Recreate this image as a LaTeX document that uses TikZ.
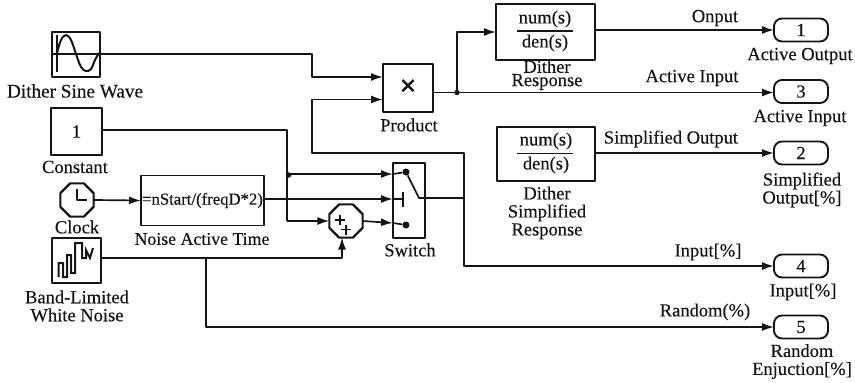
\documentclass[tikz,border=0pt]{standalone}
\usepackage{fontspec}
\setmainfont{Liberation Serif}[RawFeature={embolden=0.35}]
\usetikzlibrary{arrows.meta,shapes.geometric}
\definecolor{ink}{HTML}{141414}
\tikzset{
  x=1pt,y=-1pt,
  every path/.style={line join=round},
  wire/.style={draw=ink,line width=1.7pt},
  arr/.style={wire,-{Latex[length=12pt,width=8pt]}},
  block/.style={draw=ink,line width=1.9pt,rectangle,inner sep=0pt,outer sep=0pt,text=ink},
  outport/.style={draw=ink,line width=1.9pt,rectangle,rounded corners=8pt,minimum width=54pt,minimum height=23pt,inner sep=0pt,outer sep=0pt,text=ink,font=\fontsize{18.5}{18.5}\selectfont},
  octa/.style={draw=ink,line width=2.2pt,regular polygon,regular polygon sides=8,minimum size=36pt,inner sep=0pt,outer sep=0pt},
  lab/.style={text=ink,font=\fontsize{18.5}{18.5}\selectfont,inner sep=0pt,align=center},
  tight/.style={lab,font=\fontsize{18.5}{12}\selectfont},
  multi/.style={lab,font=\fontsize{18.5}{18}\selectfont},
  dot/.style={circle,fill=ink,inner sep=0pt,minimum size=5.5pt},
  icon/.style={draw=ink,line width=2pt}
}
\begin{document}
\begin{tikzpicture}
\useasboundingbox (0,0) rectangle (855,383);
% blocks
\node[block,minimum width=48pt,minimum height=45pt] (sine) at (76,54.5) {};
\node[block,minimum width=51pt,minimum height=47pt,font=\fontsize{18.5}{18.5}\selectfont] (const) at (76.5,131.5) {1};
\node[octa] (clock) at (77,200) {};
\node[block,minimum width=123pt,minimum height=50pt,font=\fontsize{16.7}{16.7}\selectfont] (nat) at (202.5,200.5) {=nStart/(freqD*2)};
\node[block,minimum width=49pt,minimum height=45pt] (noise) at (76.5,260.5) {};
\node[block,minimum width=50pt,minimum height=48pt] (prod) at (408,88) {};
\node[lab,font=\bfseries\fontsize{30}{30}\selectfont] (times) at (408,87.5) {×};
\node[block,minimum width=99pt,minimum height=56pt] (dr) at (545.5,32) {};
\node[block,minimum width=98pt,minimum height=54pt] (dsr) at (546,154) {};
\node[block,minimum width=32pt,minimum height=75pt] (sw) at (409,200.5) {};
\node[octa] (sum) at (346,221) {};
\node[outport] (p1) at (801,30) {1};
\node[outport] (p3) at (801,91.5) {3};
\node[outport] (p2) at (801,153) {2};
\node[outport] (p4) at (801,266) {4};
\node[outport] (p5) at (801,327) {5};
% block labels
\node[lab,font=\fontsize{19.2}{19.2}\selectfont] (l1) at (75,91) {Dither Sine Wave};
\node[lab] (l2) at (75,167) {Constant};
\node[lab] (l3) at (77,227) {Clock};
\node[lab,font=\fontsize{17.8}{17.8}\selectfont] (l4) at (202,239) {Noise Active Time};
\node[multi] (l5) at (77,306) {Band-Limited\\White Noise};
\node[lab] (l6) at (409,125) {Product};
\node[lab] (l7) at (410,250) {Switch};
\node[tight] (l8) at (547,75) {Dither\\Response};
\node[multi] (l9) at (547,213) {Dither\\Simplified\\Response};
\node[lab] (l10) at (800,56) {Active Output};
\node[lab] (l11) at (800,118) {Active Input};
\node[multi] (l12) at (802,190) {Simplified\\Output[\%]};
\node[lab] (l13) at (803,292) {Input[\%]};
\node[multi] (l14) at (802,361.5) {Random\\Enjuction[\%]};
% signal labels
\node[lab] (s1) at (715,18) {Onput};
\node[lab] (s2) at (692,78) {Active Input};
\node[lab] (s3) at (671,139) {Simplified Output};
\node[lab] (s4) at (708,252) {Input[\%]};
\node[lab] (s5) at (705,312) {Random(\%)};
% transfer functions
\node[lab] (n1) at (545,19) {num(s)};
\node[lab] (d1) at (545,43) {den(s)};
\draw[wire] (517,31) -- (573,31);
\node[lab] (n2) at (546,141) {num(s)};
\node[lab] (d2) at (546,165) {den(s)};
\draw[wire] (517,153.5) -- (573,153.5);
% coordinates
\coordinate (j1) at (457,92.5);
\coordinate (sw1) at (393,174);
\coordinate (sw2) at (393,199);
\coordinate (sw3) at (393,223);
\coordinate (j2) at (288.5,175);
\coordinate (c1) at (287,130);
\coordinate (out) at (425,198);
\coordinate (j3) at (206,258);
\coordinate (pi1) at (383,77);
\coordinate (pi2) at (383,99.5);
% connectors
\draw[arr] (sine.east |- 0,54) -- (312,54) -- (312,77) -- (pi1);
\draw[arr] (out) -- (464,198) -- (464,266) -- (p4.west);
\draw[arr] (464,198) -- (464,153) -- (312,153) -- (312,99.5) -- (pi2);
\draw[wire] (prod.east |- j1) -- (j1);
\draw[arr] (j1) -- (457,32) -- (dr.west |- 0,32);
\draw[arr] (j1) -- (p3.west |- j1);
\draw[arr] (dr.east |- p1) -- (p1.west);
\draw[arr] (dsr.east |- p2) -- (p2.west);
\draw[wire] (const.east |- c1) -- (c1) -- (287,221);
\draw[arr] (287,221) -- (sum.west);
\draw[arr] (287,174) -- (sw1);
\node[dot] (jd2) at (j2) {};
\draw[arr] (nat.east |- sw2) -- (sw2);
\draw[arr] (sum.east) -- (sw3);
\draw[arr] (clock.east) -- (nat.west);
\draw[arr] (noise.east |- j3) -- (342,258) -- (342,237.5);
\draw[arr] (j3) -- (206,327) -- (p5.west);
\node[dot] (jd1) at (j1) {};
% switch symbol
\node[dot,minimum size=7pt] (c3) at (406,172) {};
\node[dot,minimum size=7pt] (c4) at (406,225) {};
\draw[wire] (sw1) -- (c3);
\draw[wire] (sw3) -- (c4);
\draw[wire] (c3) -- (419,198) -- (out);
\draw[wire] (sw2) -- (403,199);
\draw[wire] (403,192) -- (403,207);
% sum signs
\draw[draw=ink,line width=1.1pt] (335,220) -- (345,220) (340,215) -- (340,225)
  (341,229.5) -- (351,229.5) (346,224.5) -- (346,234.5);
% clock hands
\draw[icon] (77,189) -- (77,200) -- (87,200);
% sine icon
\draw[icon] (57,35) -- (57,72);
\draw[wire] (52,54) -- (100,54);
\draw[icon] plot[smooth,tension=.6] coordinates {(57,53) (61,40) (66,35) (71,40) (76,54) (81,67) (86,71) (91,69) (95,60) (99,53)};
% noise icon
\draw[icon,line join=miter] (58.5,277) -- (58.5,263) -- (63,263) -- (63,277) -- (67,277) -- (67,255) -- (71,255) -- (71,273) -- (75,273)
 -- (75,243) -- (82,243) -- (82,258) -- (86,258) -- (86,250) -- (90,258) -- (93,248);
\end{tikzpicture}
\end{document}
